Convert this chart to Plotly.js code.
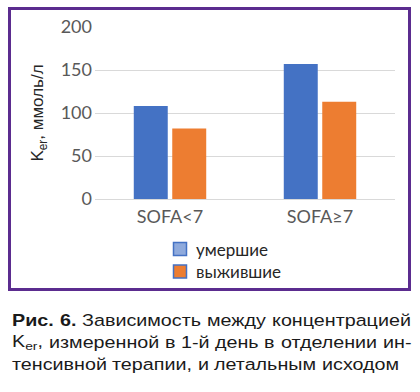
<!DOCTYPE html>
<html>
<head>
<meta charset="utf-8">
<script src="https://cdn.plot.ly/plotly-3.0.1.min.js"></script>
<style>html,body{margin:0;padding:0;background:#fff;}#chart{width:420px;height:392px;}</style>
</head>
<body>
<div id="chart"></div>
<script>
const categories = ['SOFA<7', 'SOFA≥7'];
const died = [108, 157];
const survived = [82, 113];
const seriesNames = ['умершие', 'выжившие'];
const yTickVals = [0, 50, 100, 150, 200];
const yTitle = 'K<sub>er</sub>, ммоль/л';
const captionLine1 = [{t: 'Рис.', b: true}, {t: '6.', b: true}, {t: 'Зависимость'}, {t: 'между'}, {t: 'концентрацией'}];
const captionLine2 = [{t: 'K', sub: 'er', after: ','}, {t: 'измеренной'}, {t: 'в'}, {t: '1-й'}, {t: 'день'}, {t: 'в'}, {t: 'отделении'}, {t: 'ин-'}];
const captionLine3 = [{t: 'тенсивной'}, {t: 'терапии,'}, {t: 'и'}, {t: 'летальным'}, {t: 'исходом'}];

const W = 420, H = 392;
const L = 95, R = 395, T = 27, B = 199;
const px2x = p => (p - L) / (R - L);
const py2y = p => (B - p) / (B - T);

const blue = '#4472c4', orange = '#ed7d31';

const traces = [
  {type: 'bar', x: categories, y: died, name: seriesNames[0], marker: {color: blue}, showlegend: false, hoverinfo: 'none'},
  {type: 'bar', x: categories, y: survived, name: seriesNames[1], marker: {color: orange}, showlegend: false, hoverinfo: 'none'}
];

const shapes = [
  {type: 'rect', xref: 'paper', yref: 'paper', x0: px2x(9.5), x1: px2x(409.5), y0: py2y(289.5), y1: py2y(8.5),
   line: {color: '#5b2c8f', width: 3}, fillcolor: 'rgba(0,0,0,0)', layer: 'above'},
  {type: 'rect', xref: 'paper', yref: 'paper', x0: px2x(173.5), x1: px2x(186.5), y0: py2y(255.5), y1: py2y(242.5),
   line: {color: blue, width: 1.5}, fillcolor: '#8faadc'},
  {type: 'rect', xref: 'paper', yref: 'paper', x0: px2x(173.5), x1: px2x(186.5), y0: py2y(278), y1: py2y(265),
   line: {color: blue, width: 1.5}, fillcolor: orange}
];

const annotations = [
  {xref: 'paper', yref: 'paper', x: px2x(194), y: py2y(249), xanchor: 'left', yanchor: 'middle', showarrow: false,
   text: seriesNames[0], font: {family: 'Lato', size: 17, color: '#262626'}},
  {xref: 'paper', yref: 'paper', x: px2x(194), y: py2y(271.5), xanchor: 'left', yanchor: 'middle', showarrow: false,
   text: seriesNames[1], font: {family: 'Lato', size: 17, color: '#262626'}}
];

// caption with justification (the source figure's caption is horizontally widened)
const capFont = 16.5, capFam = 'Liberation Sans';
const ctx = document.createElement('canvas').getContext('2d');
function meas(txt, bold, size) {
  ctx.font = (bold ? 'bold ' : '') + size + 'px "' + capFam + '"';
  return ctx.measureText(txt).width;
}
function wordWidth(w) {
  if (w.sub) return meas(w.t, false, capFont) + meas(w.sub, false, capFont * 0.7) + meas(w.after || '', false, capFont);
  return meas(w.t, w.b, capFont);
}
function wordText(w) {
  if (w.sub) return w.t + '<sub>' + w.sub + '</sub>' + (w.after || '');
  return w.b ? '<b>' + w.t + '</b>' : w.t;
}
const capLeft = 11, capRight = 410, lastLineRight = 398;
const natural3 = captionLine3.map(wordWidth).reduce((a, b) => a + b, 0) + meas(' ', false, capFont) * (captionLine3.length - 1);
const sx = (lastLineRight - capLeft) / natural3;
const captionIdx = [];
function placeLine(words, yc, justify) {
  const widths = words.map(w => wordWidth(w) * sx);
  const sum = widths.reduce((a, b) => a + b, 0);
  const sp = justify ? (capRight - capLeft - sum) / (words.length - 1) : meas(' ', false, capFont) * sx;
  let x = capLeft;
  words.forEach((w, i) => {
    captionIdx.push(annotations.length);
    annotations.push({xref: 'paper', yref: 'paper', x: px2x(x - 1), y: py2y(yc), xanchor: 'left', yanchor: 'middle',
      showarrow: false, text: wordText(w), font: {family: capFam, size: capFont, color: '#1a1a1a'}});
    x += widths[i] + sp;
  });
}
placeLine(captionLine1, 320, true);
placeLine(captionLine2, 342, true);
placeLine(captionLine3, 364, false);

const layout = {
  width: W, height: H,
  margin: {l: L, r: W - R, t: T, b: H - B, pad: 0},
  paper_bgcolor: '#ffffff', plot_bgcolor: '#ffffff',
  barmode: 'group', bargap: 0.487, bargroupgap: 0.117,
  showlegend: false,
  xaxis: {type: 'category', showgrid: false, showline: false, zeroline: false, ticks: '',
    ticklabelstandoff: 5,
    tickfont: {family: 'Lato', size: 18, color: '#595959'}, fixedrange: true},
  yaxis: {range: [0, 200], tickvals: yTickVals, showgrid: true, gridcolor: '#d9d9d9', gridwidth: 1,
    zeroline: true, zerolinecolor: '#d9d9d9', zerolinewidth: 1, showline: false, ticks: '',
    ticklabelstandoff: 2,
    tickfont: {family: 'Lato', size: 18, color: '#595959'},
    title: {text: yTitle, font: {family: 'Liberation Sans', size: 17, color: '#262626'}, standoff: 12}, fixedrange: true},
  shapes: shapes,
  annotations: annotations
};

Plotly.newPlot('chart', traces, layout, {staticPlot: true, displayModeBar: false}).then(gd => {
  captionIdx.forEach(i => {
    const g = gd.querySelector('.annotation[data-index="' + i + '"]');
    if (!g) return;
    const txt = g.querySelector('text.annotation-text') || g.querySelector('text');
    if (!txt) return;
    const bb = txt.getBBox();
    const prev = txt.getAttribute('transform') || '';
    txt.setAttribute('transform', (prev + ' translate(' + bb.x + ',0) scale(' + sx + ',1) translate(' + (-bb.x) + ',0)').trim());
  });
});
</script>
</body>
</html>
